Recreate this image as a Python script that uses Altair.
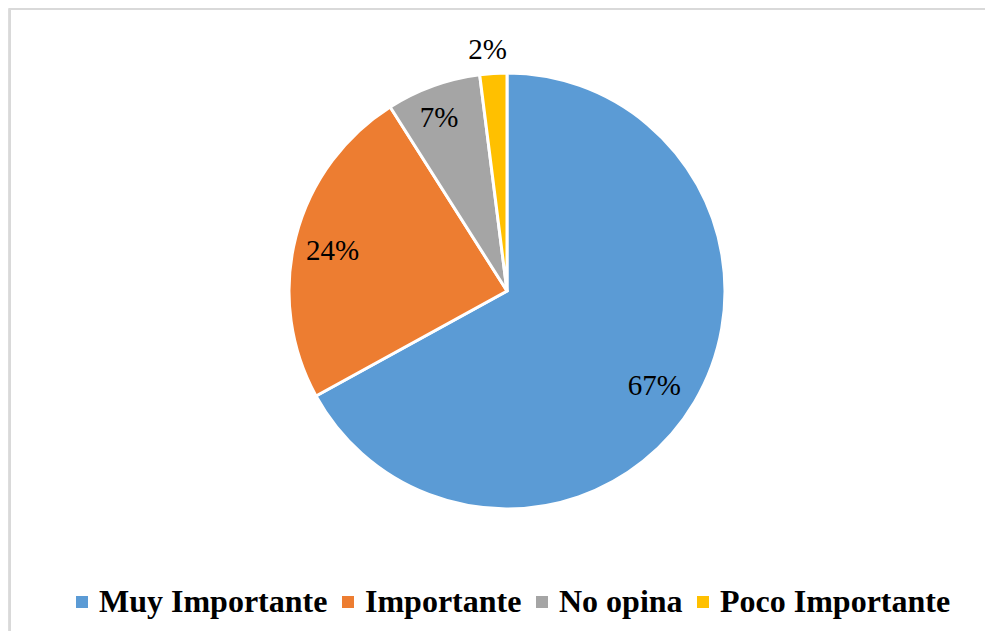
import altair as alt
import pandas as pd

categories = ["Muy Importante", "Importante", "No opina", "Poco Importante"]
values = [67, 24, 7, 2]
labels = ["67%", "24%", "7%", "2%"]
colors = ["#5B9BD5", "#ED7D31", "#A5A5A5", "#FFC000"]

df = pd.DataFrame({
    "cat": categories,
    "val": values,
    "lab": labels,
    "idx": list(range(len(categories))),
})

W, H = 977, 623
CX, CY = 499, 283
R = 218

# label placement styles (radius, dx, dy) per category
label_style = {
    "Muy Importante": (177, -5, 5),
    "Importante": (177, -3, 4),
    "No opina": (177, -8, -6),
    "Poco Importante": (245, -4, 4),
}

base = alt.Chart(df).encode(
    theta=alt.Theta("val:Q", stack=True),
    order=alt.Order("idx:Q", sort="ascending"),
)

pie = base.mark_arc(outerRadius=R, stroke="white", strokeWidth=3).encode(
    x=alt.value(CX),
    y=alt.value(CY),
    color=alt.Color(
        "cat:N",
        sort=categories,
        scale=alt.Scale(domain=categories, range=colors),
        legend=alt.Legend(
            title=None,
            orient="none",
            direction="horizontal",
            legendX=58,
            legendY=578,
            symbolType="square",
            symbolSize=144,
            symbolStrokeWidth=0,
            labelFont="Liberation Serif",
            labelFontWeight="bold",
            labelFontSize=32,
            labelColor="#000000",
            labelOffset=1,
            labelLimit=400,
            columnPadding=4,
            padding=0,
        ),
    ),
)

text_layers = []
for cat in categories:
    r, dx, dy = label_style[cat]
    text_layers.append(
        base.mark_text(
            radius=r, dx=dx, dy=dy, font="Liberation Serif", fontSize=29,
            color="#000000", baseline="middle", align="center"
        ).encode(
            x=alt.value(CX), y=alt.value(CY), text="lab:N",
            opacity=alt.condition(alt.datum.cat == cat, alt.value(1), alt.value(0)),
        )
    )

border_data = alt.Data(values=[{"a": 1}])
left_rule = alt.Chart(border_data).mark_rule(color="#D9D9D9", strokeWidth=2).encode(
    x=alt.value(2), y=alt.value(0), y2=alt.value(H)
)
top_rule = alt.Chart(border_data).mark_rule(color="#D9D9D9", strokeWidth=2).encode(
    x=alt.value(1), x2=alt.value(W), y=alt.value(1)
)

chart = alt.layer(left_rule, top_rule, pie, *text_layers).properties(
    width=W, height=H, padding=0,
    autosize=alt.AutoSizeParams(type="none"),
).configure_view(stroke=None).configure(background="white")

chart.save("out.html", embed_options={"renderer": "svg", "actions": False})
